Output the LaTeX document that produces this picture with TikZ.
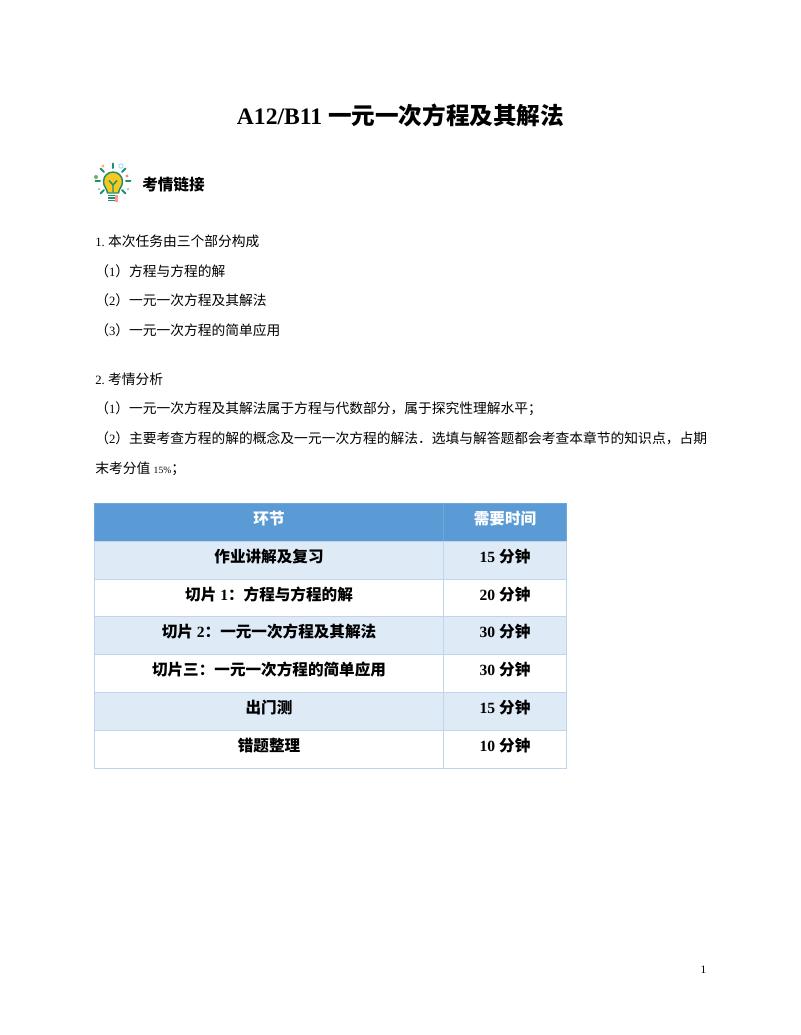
\documentclass[tikz,border=0pt]{standalone}
\usepackage{fontspec}
\usepackage{tikz}
\setmainfont{Liberation Serif}
\newfontfamily\cjk{Noto Sans CJK SC}
\definecolor{headblue}{HTML}{5B9BD5}
\definecolor{rowblue}{HTML}{DEEAF6}
\definecolor{edgeblue}{HTML}{BDD6EE}
\definecolor{bulbgreen}{HTML}{1F8F6F}
\definecolor{bulbyellow}{HTML}{F7C91E}
\newcommand{\numr}[1]{{\fontsize{9.5pt}{12pt}\selectfont\rmfamily #1}}
\tikzset{
  line/.style={anchor=base west,inner sep=0pt,font=\fontsize{10.32pt}{12pt}\selectfont},
  cell/.style={draw=edgeblue,line width=.6pt,minimum height=28.5pt,inner sep=0pt,
    text height=9pt,text depth=5.5pt,font=\fontsize{11.7pt}{14pt}\selectfont\bfseries},
  wide/.style={cell,minimum width=261.75pt},
  thin/.style={cell,minimum width=92.25pt},
  headcell/.style={fill=headblue,draw=headblue!80!edgeblue,text=white},
  ray/.style={bulbgreen,line width=1.5pt,line cap=round}
}
\begin{document}
\begin{tikzpicture}[x=.75pt,y=-.75pt]
  \useasboundingbox (0,0) rectangle (800,1035);
  \node[anchor=base,inner sep=0pt,font=\fontsize{17.7pt}{20pt}\selectfont\bfseries] (title) at (400.5,124)
    {A12/B11 {\cjk 一元一次方程及其解法}};

  % bulb
  \foreach \ang in {0,45,90,135,180,225,315}
    \draw[ray] (113,181) ++(-\ang:13) -- ++(-\ang:4.5);
  \draw[bulbgreen,fill=bulbyellow,line width=1.1pt] (107.5,193) .. controls (107,188) and (103.5,187) .. (103.5,181.5)
    arc (180:360:9.5) .. controls (122.5,187) and (119,188) .. (118.5,193) -- cycle;
  \draw[bulbgreen,line width=1.1pt] (113,192) -- (113,185) (109,180.5) -- (113,185) -- (117,180.5);
  \foreach \y in {195.5,198,200.5}
    \draw[bulbgreen,line width=1.3pt] (108,\y) -- (118,\y);
  \fill[red!40] (115,195) rectangle (118,201.5);
  \fill[orange!60] (103,166) circle (1.7);
  \fill[red!50] (127,176) circle (1.7);
  \draw[cyan!40,line width=.7pt] (121,166) circle (2.2);
  \fill[green!50!black!60] (96,177) circle (2);
  \fill[bulbgreen!70] (128,189) circle (1) (99,189) circle (1);
  \node[anchor=base west,inner sep=0pt,font=\fontsize{11.7pt}{14pt}\selectfont\cjk\bfseries] (head) at (142,190) {考情链接};

  \node[line] (l1) at (95,246) {\numr{1.}\hspace{2.5pt}{\cjk 本次任务由三个部分构成}};
  \node[line] (l2) at (95,276) {\cjk （\numr{1}）方程与方程的解};
  \node[line] (l3) at (95,305) {\cjk （\numr{2}）一元一次方程及其解法};
  \node[line] (l4) at (95,335) {\cjk （\numr{3}）一元一次方程的简单应用};
  \node[line] (l5) at (95,384) {\numr{2.}\hspace{2.5pt}{\cjk 考情分析}};
  \node[line] (l6) at (95,413) {\cjk （\numr{1}）一元一次方程及其解法属于方程与代数部分，属于探究性理解水平；};
  \node[line] (l7) at (95,443) {\cjk （\numr{2}）主要考查方程的解的概念及一元一次方程的解法．选填与解答题都会考查本章节的知识点，占期};
  \node[line] (l8) at (95,473) {{\cjk 末考分值} {\fontsize{7.2pt}{12pt}\selectfont 15\%}{\cjk ；}};

  \node[wide,headcell] (h1) at (269,522) {\cjk 环节};
  \node[thin,headcell] (h2) at (505,522) {\cjk 需要时间};

  \foreach \n/\y/\bg/\task/\mins in {
    1/560/rowblue/{\cjk 作业讲解及复习}/15,
    2/598/white/{{\cjk 切片} 1{\cjk ：方程与方程的解}}/20,
    3/635.5/rowblue/{{\cjk 切片} 2{\cjk ：一元一次方程及其解法}}/30,
    4/673/white/{\cjk 切片三：一元一次方程的简单应用}/30,
    5/711/rowblue/{\cjk 出门测}/15,
    6/749/white/{\cjk 错题整理}/10}{
    \node[wide,fill=\bg] (a\n) at (269,\y) {\task};
    \node[thin,fill=\bg] (b\n) at (505,\y) {\mins{} {\cjk 分钟}};
  }

  \node[anchor=base,inner sep=0pt,font=\fontsize{8.5pt}{10pt}\selectfont] (page) at (703.5,973) {1};
\end{tikzpicture}
\end{document}
